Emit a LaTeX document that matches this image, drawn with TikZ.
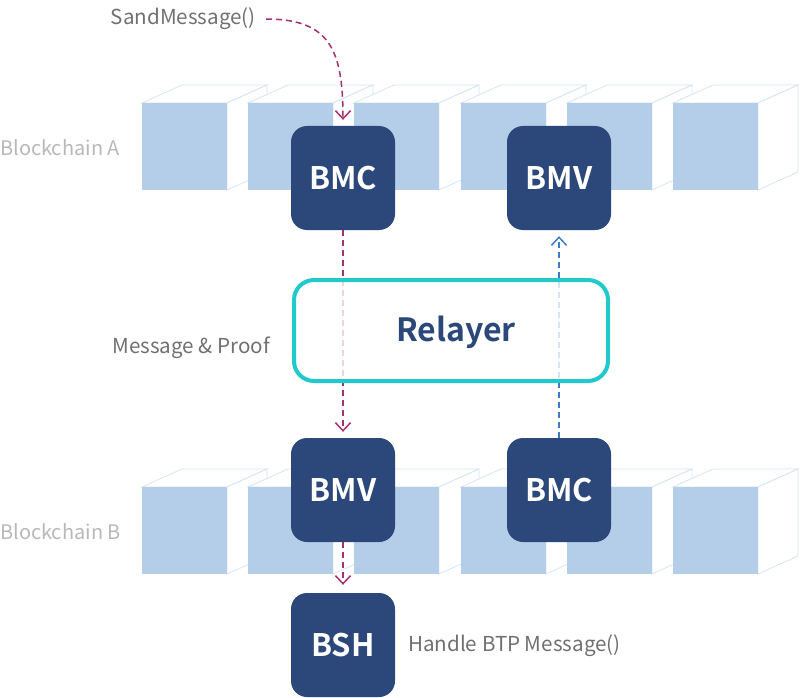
\documentclass[tikz,border=0pt]{standalone}
\usepackage{fontspec}
\setmainfont{Noto Sans CJK KR}[BoldFont={Noto Sans CJK KR Bold}]
\usetikzlibrary{arrows.meta}

\definecolor{navy}{HTML}{2C4779}
\definecolor{facefill}{HTML}{B4CEE9}
\definecolor{faceline}{HTML}{D6E4F3}
\definecolor{msgpink}{HTML}{A3306F}
\definecolor{msgblue}{HTML}{3F7AC9}
\definecolor{relaycyan}{HTML}{20C9CB}
\definecolor{labelgray}{HTML}{707070}
\definecolor{chaingray}{HTML}{B8B8B8}

\tikzset{
  module/.style={fill=navy, rounded corners=16pt, minimum width=104pt, minimum height=104pt,
    inner sep=0pt, text=white, font=\fontsize{31}{31}\selectfont\bfseries},
  flow/.style={dashed, dash pattern=on 6pt off 4pt, line width=1.5pt,
    -{Straight Barb[length=8pt,width=15pt,line width=1.5pt]}},
  side/.style={fill=white, draw=faceline, line width=0.8pt},
  caption/.style={inner sep=0pt, text=labelgray, font=\fontsize{20.6}{20.6}\selectfont},
  chainlabel/.style={inner sep=0pt, text=chaingray, font=\fontsize{20}{20}\selectfont}
}

\begin{document}
\begin{tikzpicture}[x=1pt,y=-1pt]
\useasboundingbox (0,0) rectangle (800,698);

% block rows
\foreach \y in {103,487}{
  \foreach \x in {142,248,354,461,567,673}{
    \draw[side] (\x,\y) -- (\x+40,\y-18) -- (\x+125,\y-18) -- (\x+85,\y) -- cycle;
    \draw[side] (\x+85,\y) -- (\x+125,\y-18) -- (\x+125,\y+69) -- (\x+85,\y+87) -- cycle;
    \fill[facefill] (\x,\y) rectangle (\x+85,\y+87);
  }
}

\node[chainlabel, anchor=west] (chainA) at (0,148) {Blockchain A};
\node[chainlabel, anchor=west] (chainB) at (0,532) {Blockchain B};

% modules
\node[module] (bmcA) at (343,178) {BMC};
\node[module] (bmvA) at (559,178) {BMV};
\node[module] (bmvB) at (343,490) {BMV};
\node[module] (bmcB) at (559,490) {BMC};
\node[module] (bsh) at (343,645) {BSH};

\node[caption, anchor=east] (send) at (256,19) {SandMessage()};
\node[caption, anchor=east] (proof) at (270,348) {Message \& Proof};
\node[caption, anchor=west] (handle) at (408,646) {Handle BTP Message()};

% message flow
\draw[flow, msgpink, shorten <=10pt, shorten >=6pt] (send.east) .. controls (330,19) and (343,50) .. (bmcA.north);
\draw[flow, msgpink, shorten >=6pt] (bmcA.south) -- (bmvB.north);
\draw[flow, msgblue, shorten >=6pt] (bmcB.north) -- (bmvA.south);
\draw[flow, msgpink, shorten >=8pt] (bmvB.south) -- (bsh.north);

\node[draw=relaycyan, line width=4pt, fill=white, fill opacity=0.8,
  rounded corners=20pt, minimum width=314pt, minimum height=101pt] (relayer) at (451,330.5) {};
\node[text=navy, inner sep=0pt, font=\fontsize{32}{32}\selectfont\bfseries] (relayertext)
  at ([xshift=5pt,yshift=-2pt]relayer.center) {Relayer};
\end{tikzpicture}
\end{document}
